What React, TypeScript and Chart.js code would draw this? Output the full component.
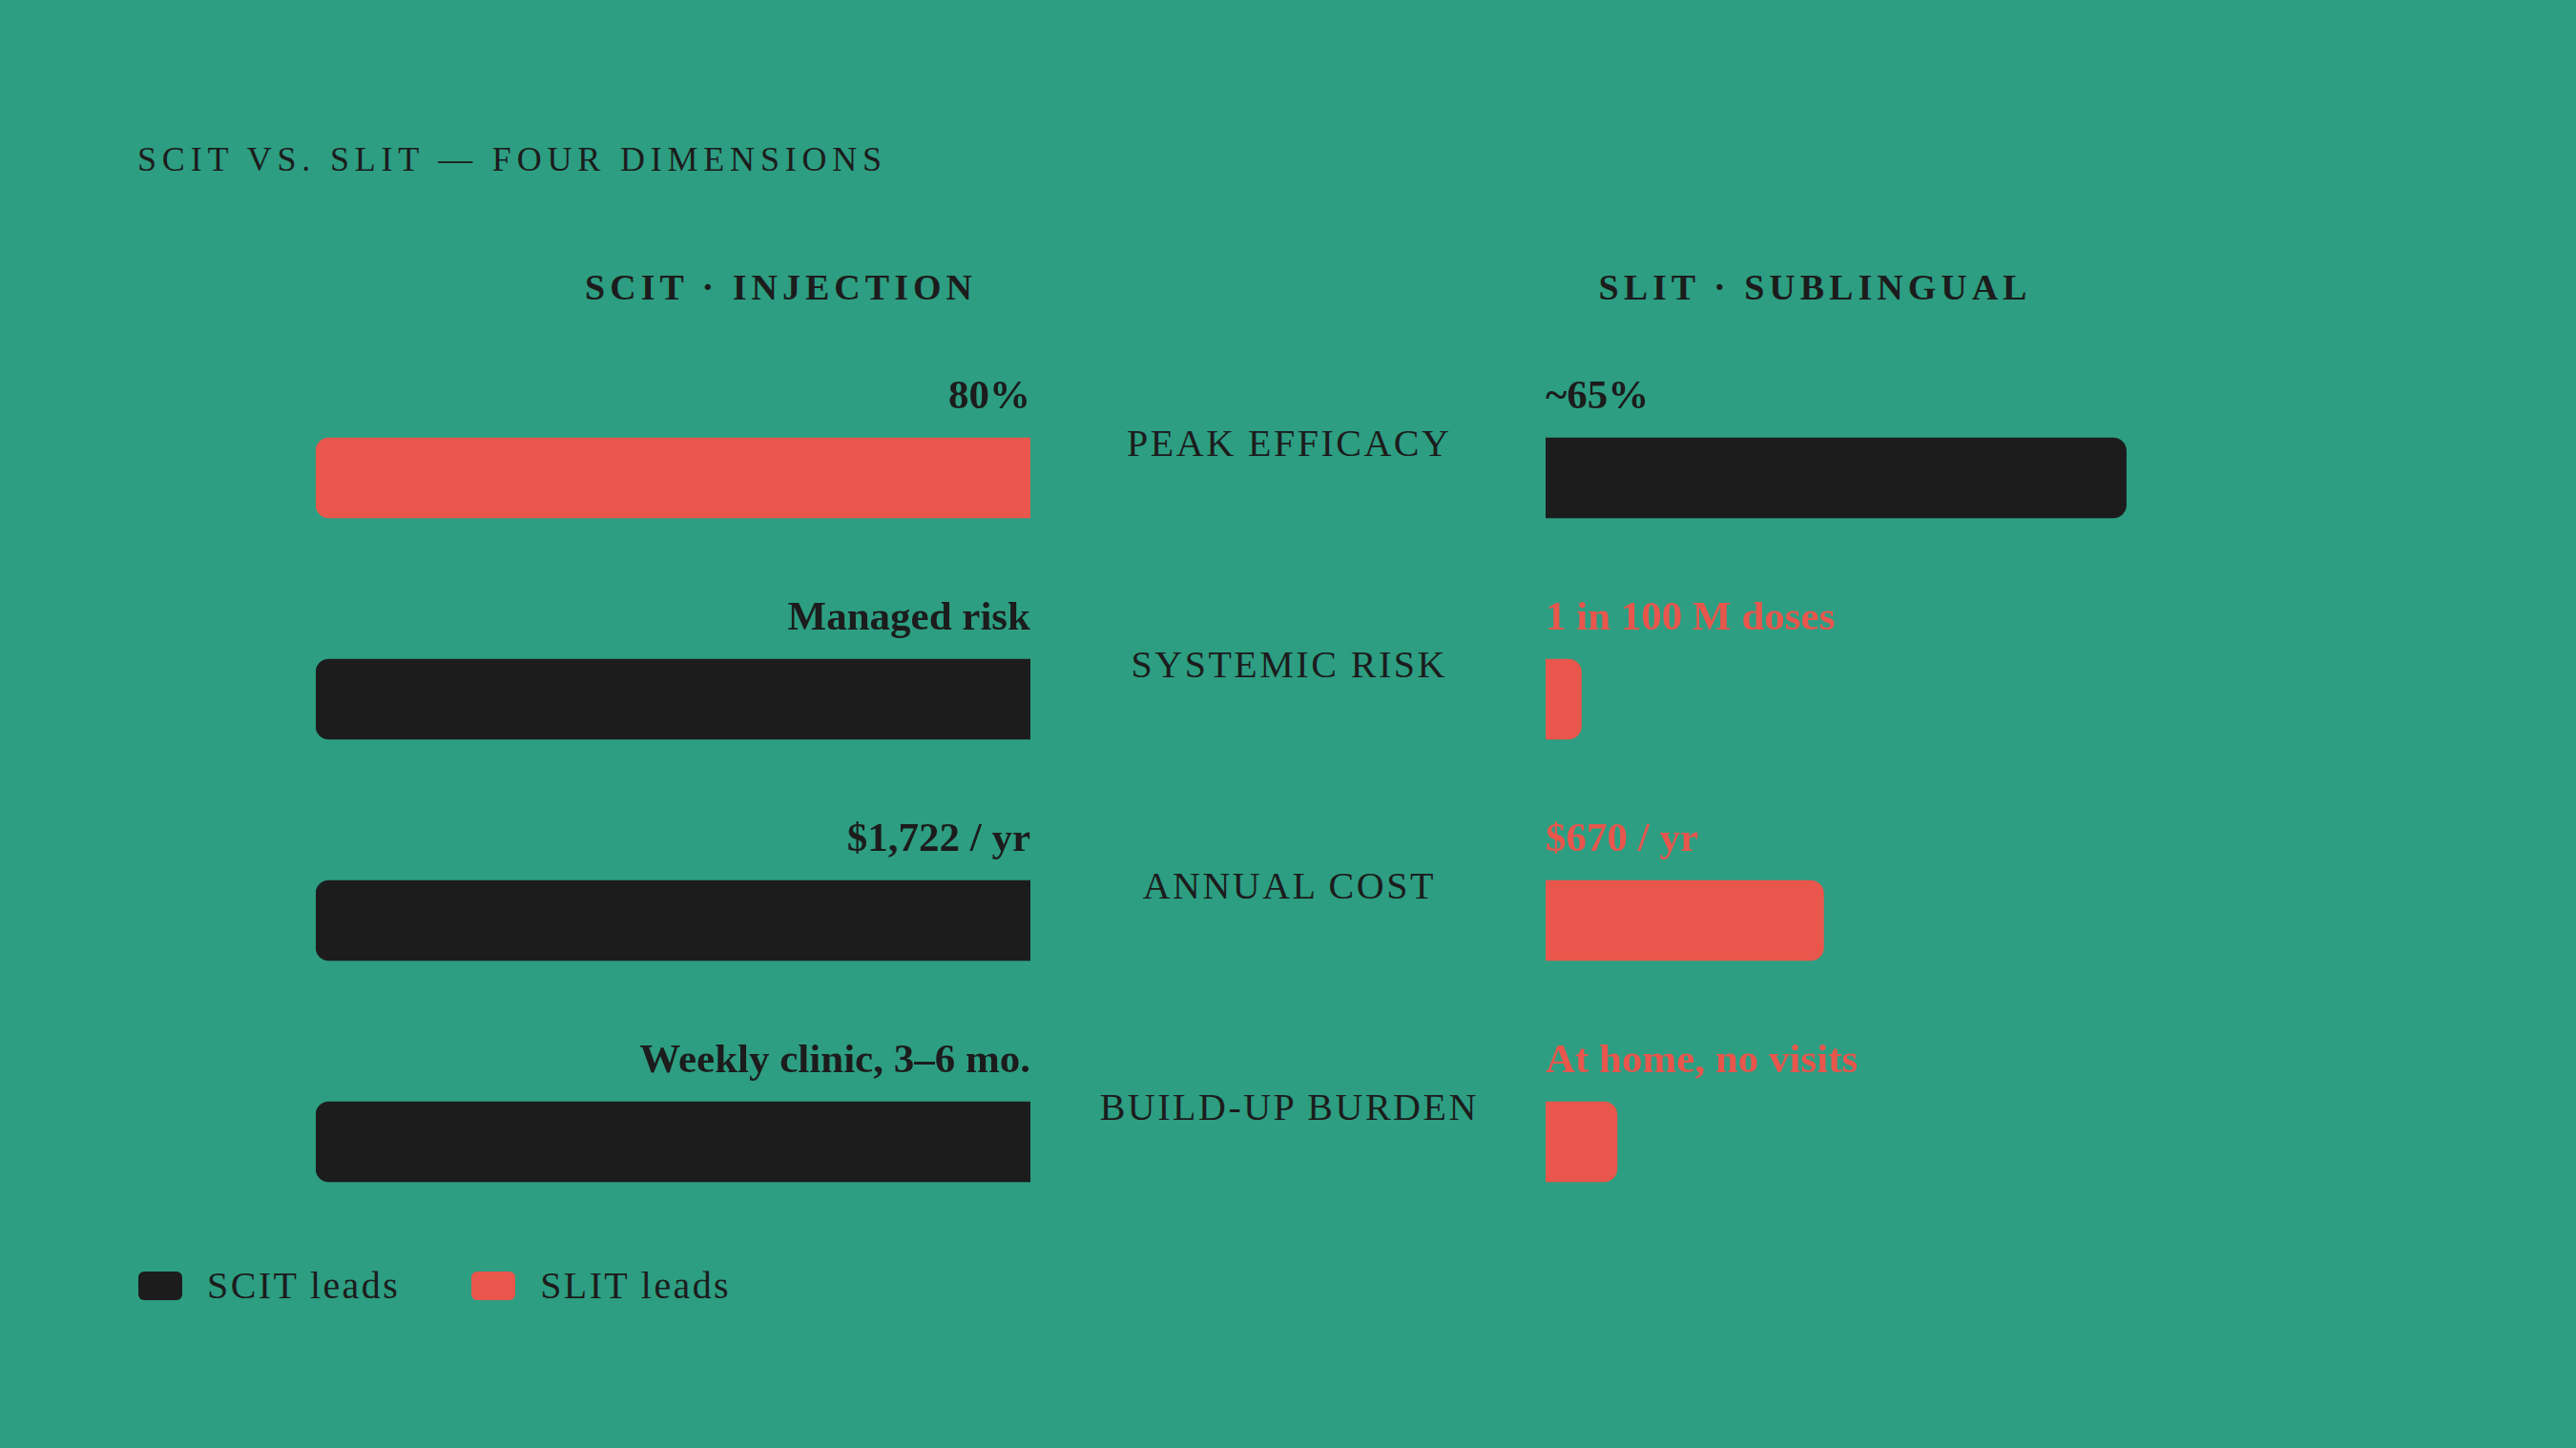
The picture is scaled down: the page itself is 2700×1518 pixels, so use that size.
import { useEffect, useRef } from "react";
import { Chart, registerables } from "chart.js";

Chart.register(...registerables);

// rows, top to bottom
const categories = ["PEAK EFFICACY", "SYSTEMIC RISK", "ANNUAL COST", "BUILD-UP BURDEN"];
// raw figures per row (efficacy %, relative risk index, $ per year, relative burden index)
const scitValues = [80, 100, 1722, 100];
const slitValues = [65, 5, 670, 10];
const scitLabels = ["80%", "Managed risk", "$1,722 / yr", "Weekly clinic, 3–6 mo."];
const slitLabels = ["~65%", "1 in 100 M doses", "$670 / yr", "At home, no visits"];
const legendLabels = ["SCIT leads", "SLIT leads"];

const BG = "#2d9e82";
const INK = "#1c1c1c";
const RED = "#e8564c";
const SERIF = "'Liberation Serif', 'Times New Roman', serif";

const scitBarColors = [RED, INK, INK, INK];
const slitBarColors = [INK, RED, RED, RED];
const scitTextColors = [INK, INK, INK, INK];
const slitTextColors = [INK, RED, RED, RED];
const legendColors = [INK, RED];

// each bar as a share of the larger value in its row
const rowMax = scitValues.map((v, i) => Math.max(v, slitValues[i]));
const scitShare = scitValues.map((v, i) => (v / rowMax[i]) * 100);
const slitShare = slitValues.map((v, i) => (v / rowMax[i]) * 100);

const ROW_TOP = 385;
const ROW_H = 232;
const PANEL_W = 749;
const LEFT_X = 331;
const RIGHT_X = 1620;

const valueLabels = (texts: string[], colors: string[], side: "left" | "right") => ({
  id: "valueLabels",
  afterDatasetsDraw(chart: Chart) {
    const { ctx, chartArea } = chart;
    const meta = chart.getDatasetMeta(0);
    ctx.save();
    ctx.font = `bold 43px ${SERIF}`;
    ctx.textBaseline = "alphabetic";
    ctx.textAlign = side === "left" ? "right" : "left";
    meta.data.forEach((bar: any, i: number) => {
      const { y, height } = bar.getProps(["y", "height"], true);
      ctx.fillStyle = colors[i];
      ctx.fillText(texts[i], side === "left" ? chartArea.right : chartArea.left, y - height / 2 - 31);
    });
    ctx.restore();
  },
});

type PanelProps = {
  side: "left" | "right";
  shares: number[];
  barColors: string[];
  texts: string[];
  textColors: string[];
};

const Panel = ({ side, shares, barColors, texts, textColors }: PanelProps) => {
  const chartRef = useRef<HTMLCanvasElement>(null);

  useEffect(() => {
    if (!chartRef.current) return;
    const ctx = chartRef.current.getContext("2d");
    if (!ctx) return;
    const chart = new Chart(ctx, {
      type: "bar",
      data: {
        labels: categories,
        datasets: [
          {
            data: shares,
            backgroundColor: barColors,
            borderWidth: 0,
            borderRadius: 14,
            borderSkipped: "start",
            barThickness: 84,
          },
        ],
      },
      options: {
        indexAxis: "y",
        responsive: true,
        maintainAspectRatio: false,
        animation: false,
        layout: { padding: 0 },
        plugins: {
          legend: { display: false },
          tooltip: { enabled: false },
        },
        scales: {
          x: { min: 0, max: 100, reverse: side === "left", display: false },
          y: { display: false },
        },
      },
      plugins: [valueLabels(texts, textColors, side)],
    });
    return () => chart.destroy();
  }, []);

  return (
    <div
      style={{
        position: "absolute",
        left: side === "left" ? LEFT_X : RIGHT_X,
        top: ROW_TOP,
        width: PANEL_W,
        height: ROW_H * categories.length,
      }}
    >
      <canvas ref={chartRef}></canvas>
    </div>
  );
};

const App = () => {
  const text = {
    position: "absolute" as const,
    fontFamily: SERIF,
    color: INK,
    whiteSpace: "nowrap" as const,
    margin: 0,
  };

  return (
    <div
      style={{
        position: "absolute",
        left: 0,
        top: 0,
        width: 2700,
        height: 1518,
        background: BG,
        overflow: "hidden",
      }}
    >
      <div style={{ ...text, left: 144, top: 149, fontSize: 36, lineHeight: "36px", letterSpacing: 5.8 }}>
        SCIT VS. SLIT — FOUR DIMENSIONS
      </div>

      <div
        style={{
          ...text,
          left: 816,
          top: 282,
          fontSize: 38,
          lineHeight: "38px",
          fontWeight: 700,
          letterSpacing: 5,
          paddingLeft: 5,
          transform: "translateX(-50%)",
        }}
      >
        SCIT · INJECTION
      </div>
      <div
        style={{
          ...text,
          left: 1900,
          top: 282,
          fontSize: 38,
          lineHeight: "38px",
          fontWeight: 700,
          letterSpacing: 5,
          paddingLeft: 5,
          transform: "translateX(-50%)",
        }}
      >
        SLIT · SUBLINGUAL
      </div>

      {categories.map((c, i) => (
        <div
          key={c}
          style={{
            ...text,
            left: 1350,
            top: ROW_TOP + ROW_H * (i + 0.5) - 36.5 - 20,
            fontSize: 40,
            lineHeight: "40px",
            letterSpacing: 2.5,
            paddingLeft: 2.5,
            transform: "translateX(-50%)",
          }}
        >
          {c}
        </div>
      ))}

      <Panel side="left" shares={scitShare} barColors={scitBarColors} texts={scitLabels} textColors={scitTextColors} />
      <Panel side="right" shares={slitShare} barColors={slitBarColors} texts={slitLabels} textColors={slitTextColors} />

      <div style={{ position: "absolute", left: 145, top: 1328, height: 40, display: "flex", alignItems: "center" }}>
        {legendLabels.map((l, i) => (
          <div key={l} style={{ display: "flex", alignItems: "center", marginRight: 75 }}>
            <span
              style={{
                display: "inline-block",
                width: 46,
                height: 30,
                borderRadius: 6,
                background: legendColors[i],
                marginRight: 26,
              }}
            />
            <span style={{ fontFamily: SERIF, color: INK, fontSize: 40, lineHeight: "40px", letterSpacing: 2.4 }}>
              {l}
            </span>
          </div>
        ))}
      </div>
    </div>
  );
};

export default App;
